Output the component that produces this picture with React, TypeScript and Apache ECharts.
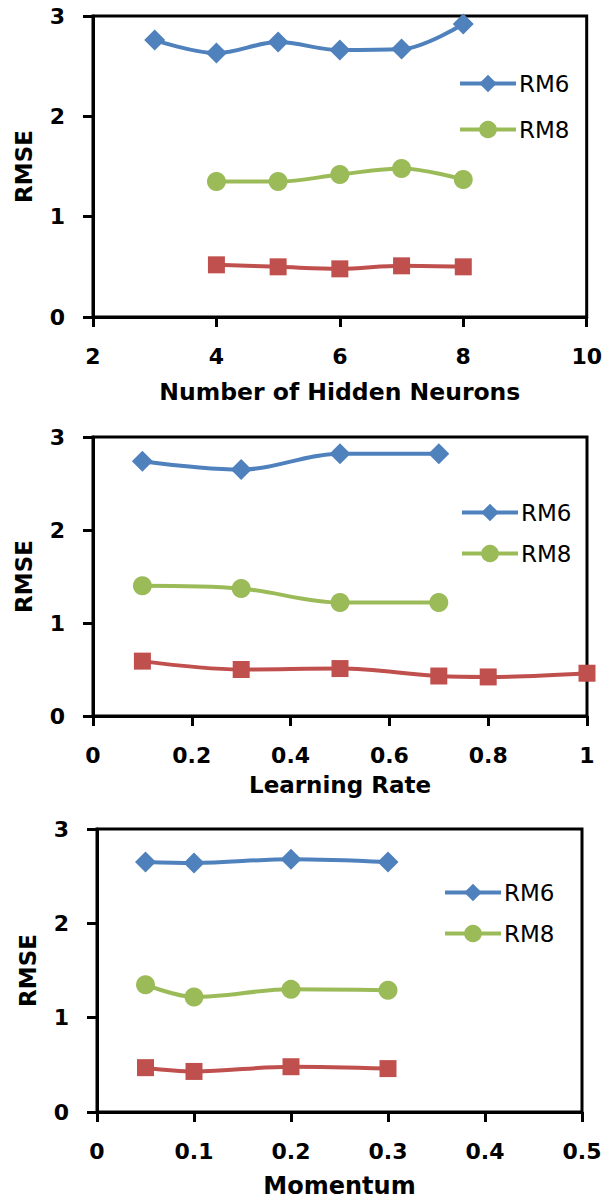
import React, { useEffect, useRef } from "react";
import * as echarts from "echarts";

// Chart 1: Number of Hidden Neurons
const neuronsRM6X = [3, 4, 5, 6, 7, 8];
const neuronsRM6Y = [2.76, 2.63, 2.74, 2.66, 2.67, 2.92];
const neuronsRM8X = [4, 5, 6, 7, 8];
const neuronsRM8Y = [1.35, 1.35, 1.42, 1.48, 1.37];
const neuronsRM4X = [4, 5, 6, 7, 8];
const neuronsRM4Y = [0.52, 0.5, 0.48, 0.51, 0.5];

// Chart 2: Learning Rate
const lrRM6X = [0.1, 0.3, 0.5, 0.7];
const lrRM6Y = [2.74, 2.65, 2.82, 2.82];
const lrRM8X = [0.1, 0.3, 0.5, 0.7];
const lrRM8Y = [1.4, 1.37, 1.22, 1.22];
const lrRM4X = [0.1, 0.3, 0.5, 0.7, 0.8, 1.0];
const lrRM4Y = [0.59, 0.5, 0.51, 0.43, 0.42, 0.46];

// Chart 3: Momentum
const momRM6X = [0.05, 0.1, 0.2, 0.3];
const momRM6Y = [2.65, 2.64, 2.68, 2.65];
const momRM8X = [0.05, 0.1, 0.2, 0.3];
const momRM8Y = [1.35, 1.22, 1.3, 1.29];
const momRM4X = [0.05, 0.1, 0.2, 0.3];
const momRM4Y = [0.47, 0.43, 0.48, 0.46];

const xTitles = ["Number of Hidden Neurons", "Learning Rate", "Momentum"];
const yTitle = "RMSE";
const legendNames = ["RM6", "RM8"];

const BLUE = "#4F81BD";
const GREEN = "#9BBB59";
const RED = "#C0504D";
const FONT = "DejaVu Sans";

const pairs = (xs: number[], ys: number[]) => xs.map((x, i) => [x, ys[i]]);

export default function App() {
  const ref = useRef<HTMLDivElement>(null);
  useEffect(() => {
    if (!ref.current) return;
    const chart = echarts.init(ref.current, null, { renderer: "svg" });

    const grids = [
      { left: 93, top: 16, right: 17, height: 301 },
      { left: 93, top: 437, right: 18, height: 279 },
      { left: 97, top: 829, right: 23, height: 284 },
    ];
    const xRanges = [
      { min: 2, max: 10, interval: 2, nameGap: 63, titleSize: 23.5 },
      { min: 0, max: 1, interval: 0.2, nameGap: 57, titleSize: 23 },
      { min: 0, max: 0.5, interval: 0.1, nameGap: 62, titleSize: 24 },
    ];

    const xAxis = xRanges.map((r, i) => ({
      type: "value",
      gridIndex: i,
      min: r.min,
      max: r.max,
      interval: r.interval,
      name: xTitles[i],
      nameLocation: "middle",
      nameGap: r.nameGap,
      nameTextStyle: { fontFamily: FONT, fontWeight: "bold", fontSize: r.titleSize, color: "#000" },
      axisLine: { show: true, lineStyle: { color: "#000", width: 3 } },
      axisTick: { show: true, inside: false, length: 10, lineStyle: { color: "#000", width: 3 } },
      axisLabel: { margin: 28, fontFamily: FONT, fontWeight: "bold", fontSize: 22, color: "#000" },
      splitLine: { show: false },
    }));

    const yAxis = [0, 1, 2].map((i) => ({
      type: "value",
      gridIndex: i,
      min: 0,
      max: 3,
      interval: 1,
      name: yTitle,
      nameLocation: "middle",
      nameGap: 58,
      nameTextStyle: { fontFamily: FONT, fontWeight: "bold", fontSize: 23, color: "#000" },
      axisLine: { show: true, lineStyle: { color: "#000", width: 3 } },
      axisTick: { show: true, inside: false, length: 10, lineStyle: { color: "#000", width: 3 } },
      axisLabel: { margin: 28, fontFamily: FONT, fontWeight: "bold", fontSize: 22, color: "#000" },
      splitLine: { show: false },
    }));

    const mk = (name: string, idx: number, xs: number[], ys: number[], color: string, symbol: string, size: number) => ({
      name,
      type: "line",
      xAxisIndex: idx,
      yAxisIndex: idx,
      data: pairs(xs, ys),
      smooth: 0.35,
      symbol,
      symbolSize: size,
      lineStyle: { color, width: 4 },
      itemStyle: { color },
    });

    const series = [
      mk("RM6", 0, neuronsRM6X, neuronsRM6Y, BLUE, "diamond", 21),
      mk("RM8", 0, neuronsRM8X, neuronsRM8Y, GREEN, "circle", 19),
      mk("RM4", 0, neuronsRM4X, neuronsRM4Y, RED, "rect", 17),
      mk("RM6", 1, lrRM6X, lrRM6Y, BLUE, "diamond", 21),
      mk("RM8", 1, lrRM8X, lrRM8Y, GREEN, "circle", 19),
      mk("RM4", 1, lrRM4X, lrRM4Y, RED, "rect", 17),
      mk("RM6", 2, momRM6X, momRM6Y, BLUE, "diamond", 21),
      mk("RM8", 2, momRM8X, momRM8Y, GREEN, "circle", 19),
      mk("RM4", 2, momRM4X, momRM4Y, RED, "rect", 17),
    ];

    const legendPos = [
      { left: 458, top: 72, gap: 23 },
      { left: 460, top: 501, gap: 18 },
      { left: 443, top: 881, gap: 18 },
    ];
    const legend = legendPos.map((p) => ({
      data: legendNames,
      orient: "vertical",
      left: p.left,
      top: p.top,
      itemWidth: 56,
      itemHeight: 22,
      itemGap: p.gap,
      padding: 0,
      selectedMode: false,
      lineStyle: { width: 4 },
      textStyle: { fontFamily: FONT, fontSize: 23, color: "#000", lineHeight: 22, padding: [0, 0, 0, -2] },
    }));

    chart.setOption({
      animation: false,
      backgroundColor: "#fff",
      grid: grids.map((g) => ({ ...g, show: true, borderColor: "#000", borderWidth: 3, backgroundColor: "transparent" })),
      xAxis,
      yAxis,
      legend,
      series,
    });
    return () => chart.dispose();
  }, []);
  return <div ref={ref} style={{ position: "fixed", left: 0, top: 0, width: 605, height: 1199 }} />;
}
